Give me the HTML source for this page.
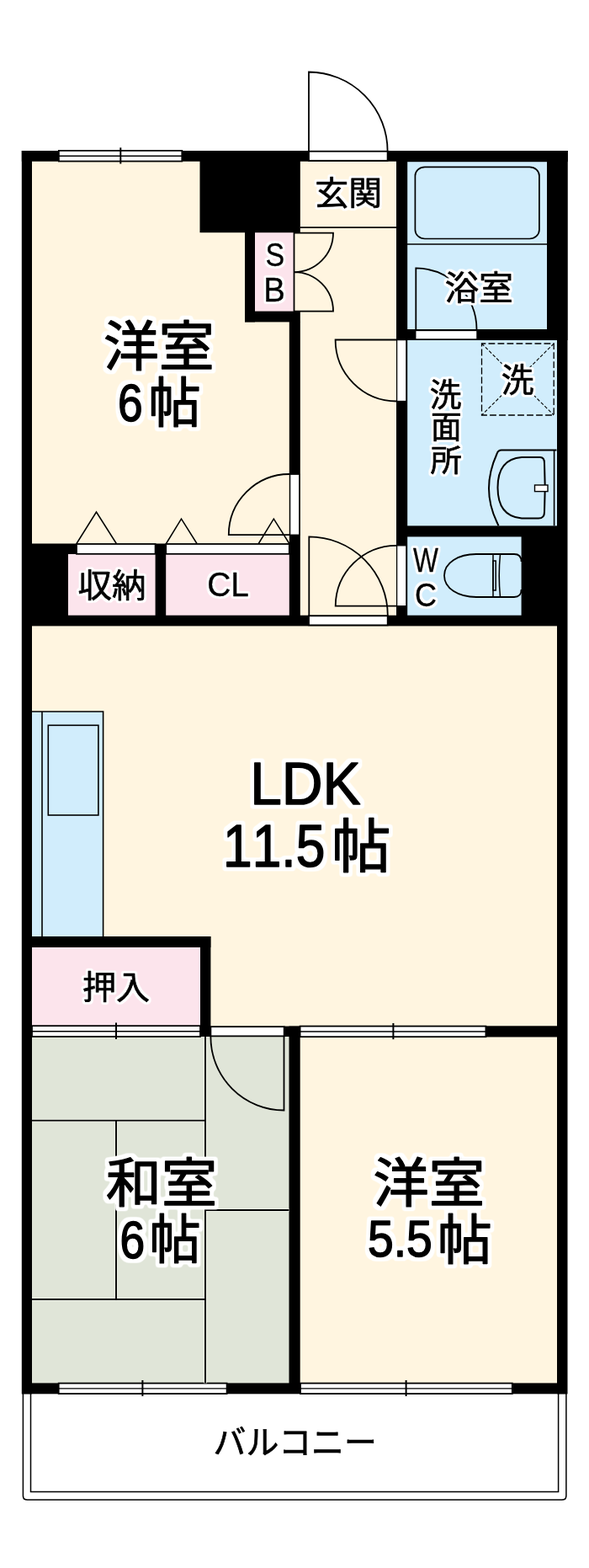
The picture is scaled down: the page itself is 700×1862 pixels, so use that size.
<!DOCTYPE html>
<html lang="ja">
<head>
<meta charset="utf-8">
<title>間取り図</title>
<style>
html,body{margin:0;padding:0;background:#fff}
body{width:700px;height:1862px;overflow:hidden}
svg{display:block}
.t text{font-family:"Liberation Sans","Noto Sans CJK JP",sans-serif;font-weight:400;font-kerning:none;fill:#000;stroke:#000;stroke-linejoin:round}
</style>
</head>
<body>
<svg width="700" height="1862" viewBox="0 0 700 1862" shape-rendering="geometricPrecision">
<filter id="halo5" x="0" y="0" width="700" height="1862" filterUnits="userSpaceOnUse" color-interpolation-filters="sRGB">
<feMorphology in="SourceAlpha" operator="dilate" radius="4" result="d"/>
<feGaussianBlur in="d" stdDeviation="1.6" result="b"/>
<feComponentTransfer in="b" result="h"><feFuncA type="linear" slope="3" intercept="-0.5"/></feComponentTransfer>
<feFlood flood-color="#fff"/><feComposite operator="in" in2="h" result="w"/>
<feMerge><feMergeNode in="w"/><feMergeNode in="SourceGraphic"/></feMerge>
</filter>
<filter id="halo3" x="0" y="0" width="700" height="1862" filterUnits="userSpaceOnUse" color-interpolation-filters="sRGB">
<feMorphology in="SourceAlpha" operator="dilate" radius="2" result="d"/>
<feGaussianBlur in="d" stdDeviation="1.2" result="b"/>
<feComponentTransfer in="b" result="h"><feFuncA type="linear" slope="3" intercept="-0.3"/></feComponentTransfer>
<feFlood flood-color="#fff"/><feComposite operator="in" in2="h" result="w"/>
<feMerge><feMergeNode in="w"/><feMergeNode in="SourceGraphic"/></feMerge>
</filter>
<rect x="0" y="0" width="700" height="1862" fill="#fff"/>
<rect x="26" y="179" width="648" height="1476" fill="#fff5e0"/>
<rect x="484" y="191" width="166.2" height="201" fill="#d1edfc"/>
<rect x="484" y="404" width="178" height="221" fill="#d1edfc"/>
<rect x="484" y="637" width="136" height="94" fill="#d1edfc"/>
<rect x="303" y="276" width="46.5" height="94" fill="#fce4ec"/>
<rect x="81" y="657" width="104" height="74" fill="#fce4ec"/>
<rect x="197" y="657" width="147" height="74" fill="#fce4ec"/>
<rect x="38" y="1124" width="200" height="94" fill="#fce4ec"/>
<rect x="38" y="845" width="84.5" height="267" fill="#d1edfc"/>
<rect x="38" y="1231" width="306" height="412" fill="#e0e5d8"/>
<rect x="25.8" y="179" width="12.2" height="1476.3" fill="#000"/>
<rect x="662" y="179" width="12.5" height="1476.3" fill="#000"/>
<rect x="650" y="179" width="24.5" height="225" fill="#000"/>
<rect x="25.8" y="179" width="648.7" height="12.7" fill="#000"/>
<rect x="471.5" y="179" width="203" height="13.2" fill="#000"/>
<rect x="237.5" y="179" width="119.3" height="97.2" fill="#000"/>
<rect x="291" y="276" width="12" height="106.4" fill="#000"/>
<rect x="291" y="369.6" width="65.8" height="12.8" fill="#000"/>
<rect x="343.8" y="382" width="13" height="361" fill="#000"/>
<rect x="471" y="179" width="13.2" height="564" fill="#000"/>
<rect x="484" y="391" width="190" height="13" fill="#000"/>
<rect x="472" y="624.4" width="202" height="13" fill="#000"/>
<rect x="619.6" y="637" width="54.4" height="106" fill="#000"/>
<rect x="26" y="730.7" width="648" height="12.7" fill="#000"/>
<rect x="26" y="645.5" width="55" height="97.5" fill="#000"/>
<rect x="81" y="645.5" width="10" height="12.5" fill="#000"/>
<rect x="184.6" y="645.5" width="12.6" height="97.5" fill="#000"/>
<rect x="26" y="1112" width="224.4" height="13" fill="#000"/>
<rect x="238" y="1112" width="12.4" height="119" fill="#000"/>
<rect x="343.5" y="1218.6" width="13.2" height="436.4" fill="#000"/>
<rect x="337.7" y="1218.6" width="19" height="12.4" fill="#000"/>
<rect x="577.4" y="1218.3" width="96.6" height="13.2" fill="#000"/>
<rect x="26" y="1642.4" width="648" height="12.9" fill="#000"/>
<rect x="69.9" y="178.9" width="146.4" height="12.6" fill="#fff" stroke="#000" stroke-width="1.8"/>
<line x1="69.9" y1="185.3" x2="216.3" y2="185.3" stroke="#000" stroke-width="1.4"/>
<line x1="143.3" y1="175.3" x2="143.3" y2="194.5" stroke="#000" stroke-width="2"/>
<rect x="38" y="1218.2" width="200" height="12.8" fill="#fff" stroke="#000" stroke-width="1.8"/>
<line x1="38" y1="1224.7" x2="238" y2="1224.7" stroke="#000" stroke-width="1.4"/>
<line x1="138" y1="1214.6" x2="138" y2="1234" stroke="#000" stroke-width="2"/>
<rect x="356.6" y="1218.6" width="220.8" height="12.6" fill="#fff" stroke="#000" stroke-width="1.8"/>
<line x1="356.6" y1="1225" x2="577.4" y2="1225" stroke="#000" stroke-width="1.4"/>
<line x1="467.4" y1="1215" x2="467.4" y2="1234.2" stroke="#000" stroke-width="2"/>
<rect x="69.7" y="1642.6" width="199.9" height="12.4" fill="#fff" stroke="#000" stroke-width="1.8"/>
<line x1="69.7" y1="1648.9" x2="269.6" y2="1648.9" stroke="#000" stroke-width="1.4"/>
<line x1="169.4" y1="1639" x2="169.4" y2="1658" stroke="#000" stroke-width="2"/>
<rect x="357" y="1642.6" width="251.8" height="12.4" fill="#fff" stroke="#000" stroke-width="1.8"/>
<line x1="357" y1="1648.9" x2="608.8" y2="1648.9" stroke="#000" stroke-width="1.4"/>
<line x1="482.6" y1="1639" x2="482.6" y2="1658" stroke="#000" stroke-width="2"/>
<rect x="367" y="179.7" width="93.6" height="11.1" fill="#fff" stroke="#000" stroke-width="1.8"/>
<rect x="344.6" y="563.2" width="11.2" height="72" fill="#fff" stroke="#000" stroke-width="1.3"/>
<rect x="471.6" y="403.6" width="11.3" height="72.9" fill="#fff" stroke="#000" stroke-width="1.3"/>
<rect x="471.6" y="647.8" width="11.3" height="71.9" fill="#fff" stroke="#000" stroke-width="1.3"/>
<rect x="367" y="731.3" width="93.7" height="11.1" fill="#fff" stroke="#000" stroke-width="1.8"/>
<rect x="493.7" y="392.4" width="73.3" height="10.6" fill="#fff" stroke="#000" stroke-width="1.5"/>
<rect x="250.4" y="1219.2" width="87.3" height="11.2" fill="#fff" stroke="#000" stroke-width="1.8"/>
<rect x="91" y="646" width="93.6" height="11.8" fill="#fff" stroke="#000" stroke-width="1.8"/>
<rect x="197.2" y="646" width="146.6" height="11.8" fill="#fff" stroke="#000" stroke-width="1.8"/>
<path d="M367 180V85.5A94 94 0 0 1 460.6 180" fill="none" stroke="#000" stroke-width="1.8"/>
<path d="M349.5 276.6H396A46.5 46.5 0 0 1 349.5 323.1A46.5 46.5 0 0 1 396 369.6H349.5Z" fill="none" stroke="#000" stroke-width="1.8"/>
<path d="M471.5 403.5H398.6A73 73 0 0 0 471.5 476.5" fill="none" stroke="#000" stroke-width="1.8"/>
<path d="M344 635.2H271.8A72.2 72.2 0 0 1 344 563" fill="none" stroke="#000" stroke-width="1.8"/>
<path d="M367.3 731V637.4A93.5 93.5 0 0 1 460.8 731" fill="none" stroke="#000" stroke-width="1.8"/>
<path d="M471.5 719.7H398.7A72.5 72.5 0 0 1 471.5 647.8" fill="none" stroke="#000" stroke-width="1.8"/>
<path d="M494.3 392V318.4A73 73 0 0 1 566.5 392" fill="none" stroke="#000" stroke-width="1.8"/>
<path d="M337.5 1231V1318.5A87.3 87.3 0 0 1 250.4 1231" fill="none" stroke="#000" stroke-width="1.8"/>
<path d="M91 645.5L114.5 608L138.3 645.5" fill="none" stroke="#000" stroke-width="1.5"/>
<path d="M197.5 645.5L215.5 616.2L234 645.5" fill="none" stroke="#000" stroke-width="1.5"/>
<path d="M307.3 645.5L325.3 616.2L343.8 645.5" fill="none" stroke="#000" stroke-width="1.5"/>
<line x1="356.5" y1="270.2" x2="471" y2="270.2" stroke="#000" stroke-width="1.7"/>
<rect x="493.4" y="198.3" width="147.5" height="85.2" rx="11.5" ry="10.5" fill="none" stroke="#000" stroke-width="1.7"/>
<line x1="484" y1="290.1" x2="650" y2="290.1" stroke="#000" stroke-width="1.5"/>
<rect x="572.5" y="408" width="85.7" height="85" fill="none" stroke="#000" stroke-width="1.3" stroke-dasharray="7.8 3.2" stroke-dashoffset="3"/>
<line x1="572.5" y1="408" x2="658.2" y2="493" stroke="#000" stroke-width="1.1" stroke-dasharray="4 2.2"/>
<line x1="658.2" y1="408" x2="572.5" y2="493" stroke="#000" stroke-width="1.1" stroke-dasharray="4 2.2"/>
<path d="M661.5 534.6H596Q592 534.6 590.5 539Q581 560 581 580Q581 600 590.5 620L592.5 624.4" fill="none" stroke="#000" stroke-width="2"/>
<line x1="658.6" y1="534.6" x2="658.6" y2="624.4" stroke="#000" stroke-width="1.6"/>
<path d="M642 543H620Q591.5 545 591.5 579Q591.5 613 620 615.6H640Q647 615.6 647 608Q648.5 579 647 550Q647 543 642 543Z" fill="none" stroke="#000" stroke-width="2"/>
<rect x="635.5" y="576" width="15.5" height="7.6" fill="#fff" stroke="#000" stroke-width="1.4"/>
<path d="M586 658H566C545 658 528 668 528 683.5C528 699 545 709 566 709H586" fill="none" stroke="#000" stroke-width="1.8"/>
<path d="M586 658H611Q619.6 658 619.6 667M619.6 700Q619.6 709 611 709H586" fill="none" stroke="#000" stroke-width="1.8"/>
<line x1="586" y1="658" x2="586" y2="709" stroke="#000" stroke-width="1.5"/>
<path d="M594.5 658Q592 683.5 594.5 709" fill="none" stroke="#000" stroke-width="1.5"/>
<rect x="586" y="666" width="3.2" height="35" fill="none" stroke="#000" stroke-width="1.5"/>
<path d="M38 845H122.6V1112" fill="none" stroke="#000" stroke-width="1.6"/>
<line x1="50" y1="845" x2="50" y2="1112" stroke="#000" stroke-width="1.6"/>
<rect x="57.3" y="861.3" width="59.6" height="106.7" fill="none" stroke="#000" stroke-width="1.6"/>
<line x1="38" y1="1330.6" x2="244" y2="1330.6" stroke="#eef1e8" stroke-width="3.6"/>
<line x1="244" y1="1231" x2="244" y2="1642.4" stroke="#eef1e8" stroke-width="3.6"/>
<line x1="138" y1="1330.6" x2="138" y2="1543" stroke="#eef1e8" stroke-width="3.6"/>
<line x1="38" y1="1543" x2="244" y2="1543" stroke="#eef1e8" stroke-width="3.6"/>
<line x1="244" y1="1437" x2="343.5" y2="1437" stroke="#eef1e8" stroke-width="3.6"/>
<line x1="38" y1="1330.6" x2="244" y2="1330.6" stroke="#000" stroke-width="1.9"/>
<line x1="244" y1="1231" x2="244" y2="1642.4" stroke="#000" stroke-width="1.9"/>
<line x1="138" y1="1330.6" x2="138" y2="1543" stroke="#000" stroke-width="1.9"/>
<line x1="38" y1="1543" x2="244" y2="1543" stroke="#000" stroke-width="1.9"/>
<line x1="244" y1="1437" x2="343.5" y2="1437" stroke="#000" stroke-width="1.9"/>
<path d="M27.4 1655V1776.2Q27.4 1781.1 32.4 1781.1H668Q672.9 1781.1 672.9 1776.2V1655" fill="none" stroke="#000" stroke-width="1.5"/>
<path d="M36.5 1655V1771.4H663.6V1655" fill="none" stroke="#000" stroke-width="1.5"/>
<g class="t" filter="url(#halo5)">
<text><tspan x="122.91" y="433.63" font-size="63.76" textLength="131.76" lengthAdjust="spacingAndGlyphs" stroke-width="1.3">洋室</tspan></text>
<text><tspan x="140.08" y="500.03" font-size="62.25" textLength="29.66" lengthAdjust="spacingAndGlyphs" stroke-width="1.5">6</tspan><tspan x="176.29" y="501.04" font-size="63.66" textLength="62.46" lengthAdjust="spacingAndGlyphs" stroke-width="1.3">帖</tspan></text>
<text><tspan x="297.15" y="954.65" font-size="70.29" textLength="131.33" lengthAdjust="spacingAndGlyphs" stroke-width="1.5">LDK</tspan></text>
<text><tspan x="265.08" y="1029.25" font-size="69.71" textLength="121.25" lengthAdjust="spacingAndGlyphs" stroke-width="1.5">11.5</tspan><tspan x="394.07" y="1030.44" font-size="69.57" textLength="70.51" lengthAdjust="spacingAndGlyphs" stroke-width="1.3">帖</tspan></text>
<text><tspan x="126.10" y="1426.73" font-size="62.81" textLength="131.98" lengthAdjust="spacingAndGlyphs" stroke-width="1.3">和室</tspan></text>
<text><tspan x="142.38" y="1493.93" font-size="62.25" textLength="29.66" lengthAdjust="spacingAndGlyphs" stroke-width="1.5">6</tspan><tspan x="177.58" y="1493.93" font-size="62.58" textLength="61.12" lengthAdjust="spacingAndGlyphs" stroke-width="1.3">帖</tspan></text>
<text><tspan x="443.60" y="1427.03" font-size="62.58" textLength="132.50" lengthAdjust="spacingAndGlyphs" stroke-width="1.3">洋室</tspan></text>
<text><tspan x="436.94" y="1492.33" font-size="62.00" textLength="76.94" lengthAdjust="spacingAndGlyphs" stroke-width="1.5">5.5</tspan><tspan x="519.82" y="1494.92" font-size="63.87" textLength="65.03" lengthAdjust="spacingAndGlyphs" stroke-width="1.3">帖</tspan></text>
</g>
<g class="t" filter="url(#halo3)">
<text><tspan x="374.35" y="242.55" font-size="38.93" textLength="79.90" lengthAdjust="spacingAndGlyphs" stroke-width="0.7">玄関</tspan></text>
<text><tspan x="528.73" y="355.61" font-size="39.25" textLength="81.05" lengthAdjust="spacingAndGlyphs" stroke-width="0.7">浴室</tspan></text>
<text><tspan x="595.80" y="464.81" font-size="38.17" textLength="38.72" lengthAdjust="spacingAndGlyphs" stroke-width="0.7">洗</tspan></text>
<text><tspan x="510.84" y="482.42" font-size="37.96" textLength="37.76" lengthAdjust="spacingAndGlyphs" stroke-width="0.7">洗</tspan><tspan x="511.93" y="520.46" font-size="37.56" textLength="36.74" lengthAdjust="spacingAndGlyphs" stroke-width="0.7">面</tspan><tspan x="511.42" y="559.56" font-size="36.39" textLength="37.36" lengthAdjust="spacingAndGlyphs" stroke-width="0.7">所</tspan></text>
<text><tspan x="315.52" y="316.36" font-size="38.87" textLength="22.66" lengthAdjust="spacingAndGlyphs" stroke-width="0.3">S</tspan><tspan x="313.18" y="357.65" font-size="40.00" textLength="25.56" lengthAdjust="spacingAndGlyphs" stroke-width="0.3">B</tspan></text>
<text><tspan x="491.09" y="679.35" font-size="40.00" textLength="29.88" lengthAdjust="spacingAndGlyphs" stroke-width="0.3">W</tspan><tspan x="492.95" y="720.16" font-size="39.01" textLength="26.04" lengthAdjust="spacingAndGlyphs" stroke-width="0.3">C</tspan></text>
<text><tspan x="92.53" y="709.04" font-size="39.04" textLength="81.16" lengthAdjust="spacingAndGlyphs" stroke-width="0.7">収納</tspan></text>
<text><tspan x="246.20" y="708.45" font-size="39.72" textLength="49.75" lengthAdjust="spacingAndGlyphs" stroke-width="0.3">CL</tspan></text>
<text><tspan x="98.05" y="1186.32" font-size="39.14" textLength="80.11" lengthAdjust="spacingAndGlyphs" stroke-width="0.7">押入</tspan></text>
<text><tspan x="253.52" y="1726.56" font-size="39.76" textLength="194.32" lengthAdjust="spacingAndGlyphs" stroke-width="0.7">バルコニー</tspan></text>
</g>
</svg>
</body>
</html>
